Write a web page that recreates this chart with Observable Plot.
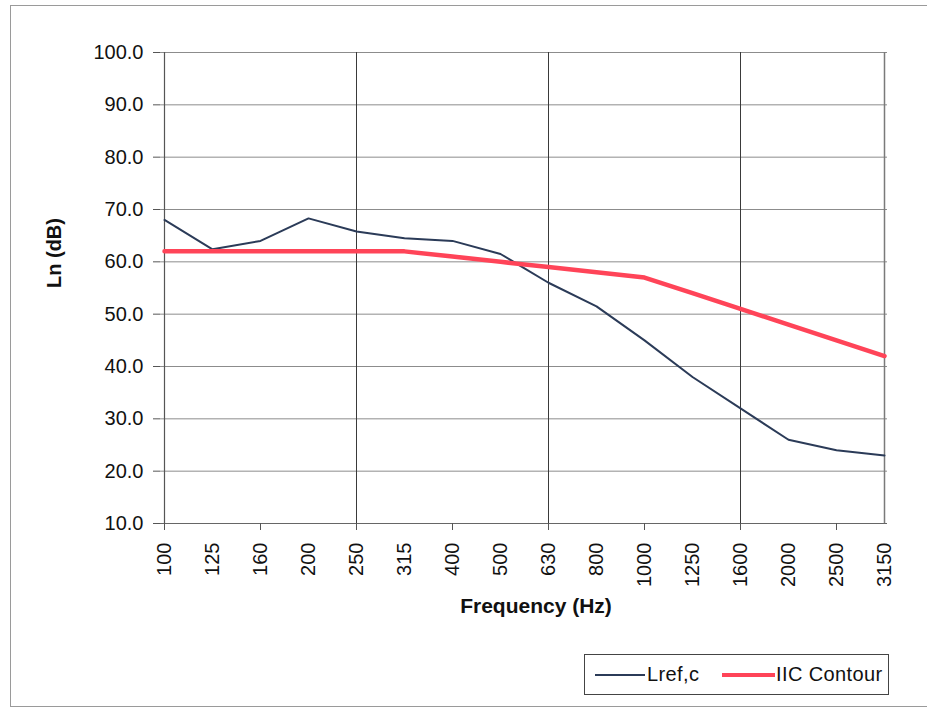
<!DOCTYPE html>
<html>
<head>
<meta charset="utf-8">
<script src="https://cdn.jsdelivr.net/npm/d3@7"></script>
<script src="https://cdn.jsdelivr.net/npm/@observablehq/plot@0.6"></script>
<style>
  html, body { margin: 0; padding: 0; background: #fff; }
  #wrap { position: relative; width: 927px; height: 711px; overflow: hidden; font-family: "Liberation Sans", Arial, sans-serif; }
  #frame { position: absolute; left: 10px; top: 5px; width: 930px; height: 702px; border: 1px solid #9a9a9a; box-sizing: border-box; }
  #chart { position: absolute; left: 0; top: 0; }
  #legend { position: absolute; left: 584px; top: 654px; width: 305px; height: 41px; border: 1px solid #444; box-sizing: border-box; font-size: 20px; letter-spacing: 0.4px; color: #111; }
  .sw { position: absolute; top: 19px; height: 0; }
  .lt { position: absolute; top: 8px; line-height: 22px; }
</style>
</head>
<body>
<div id="wrap">
  <div id="frame"></div>
  <div id="chart"></div>
  <div id="legend">
    <div class="sw" style="left:10px;width:50px;border-top:2px solid #2b3b58;"></div>
    <div class="lt" style="left:62px;">Lref,c</div>
    <div class="sw" style="left:137px;width:53px;border-top:4px solid #ff4458;top:18px;"></div>
    <div class="lt" style="left:191px;">IIC Contour</div>
  </div>
</div>
<script>
const freqs = ["100","125","160","200","250","315","400","500","630","800","1000","1250","1600","2000","2500","3150"];
const lrefValues = [68, 62.4, 64, 68.3, 65.8, 64.5, 64, 61.5, 56, 51.5, 45, 38, 32, 26, 24, 23];
const iicValues = [62, 62, 62, 62, 62, 62, 61, 60, 59, 58, 57, 54, 51, 48, 45, 42];
const yTicks = [10, 20, 30, 40, 50, 60, 70, 80, 90, 100];
const majorFreqs = ["250", "630", "1600"];
const tickFreqs = ["100", "160", "250", "400", "630", "1000", "1600", "2500"];

const lref = freqs.map((f, i) => ({f, v: lrefValues[i]}));
const iic = freqs.map((f, i) => ({f, v: iicValues[i]}));

const chart = Plot.plot({
  width: 927,
  height: 640,
  marginLeft: 160,
  marginRight: 40,
  marginTop: 52,
  marginBottom: 117,
  style: {fontFamily: "'Liberation Sans', Arial, sans-serif", fontSize: "20px", color: "#111", background: "transparent", overflow: "visible"},
  x: {type: "point", domain: freqs, padding: 0, label: null},
  y: {domain: [10, 100], label: null},
  marks: [
    Plot.ruleY(yTicks.filter(d => d > 10), {y: d => d, stroke: "#8c8c8c", strokeWidth: 1, strokeOpacity: 1}),
    Plot.ruleX(majorFreqs, {x: d => d, stroke: "#3a3a3a", strokeWidth: 1, strokeOpacity: 1}),
    Plot.ruleX(["3150"], {x: d => d, stroke: "#7a7a7a", strokeWidth: 1.5, strokeOpacity: 1}),
    Plot.ruleX(["100"], {x: d => d, stroke: "#555", strokeWidth: 1.2, strokeOpacity: 1}),
    Plot.ruleY([10], {y: d => d, stroke: "#666", strokeWidth: 1.2, strokeOpacity: 1}),
    Plot.axisY({ticks: yTicks, tickFormat: d => d.toFixed(1), tickSize: 7, tickPadding: 10, label: null, stroke: "#555", fontSize: 20, letterSpacing: "0.6px"}),
    Plot.axisX({ticks: freqs, tickSize: 0, tickRotate: -90, tickPadding: 19, label: null, fontSize: 20}),
    Plot.axisX({ticks: tickFreqs, tickSize: 7, tickFormat: () => "", label: null, stroke: "#555"}),
    Plot.line(lref, {x: "f", y: "v", stroke: "#2b3b58", strokeWidth: 2}),
    Plot.line(iic, {x: "f", y: "v", stroke: "#ff4458", strokeWidth: 4.5}),
    Plot.text(["Ln (dB)"], {text: d => d, frameAnchor: "left", dx: -106, rotate: -90, fontWeight: "bold", fontSize: 20, letterSpacing: "0.5px"}),
    Plot.text(["Frequency (Hz)"], {text: d => d, frameAnchor: "bottom", dx: 12, dy: 89, fontWeight: "bold", fontSize: 21, letterSpacing: "0.8px"})
  ]
});
document.getElementById("chart").appendChild(chart);
</script>
</body>
</html>
